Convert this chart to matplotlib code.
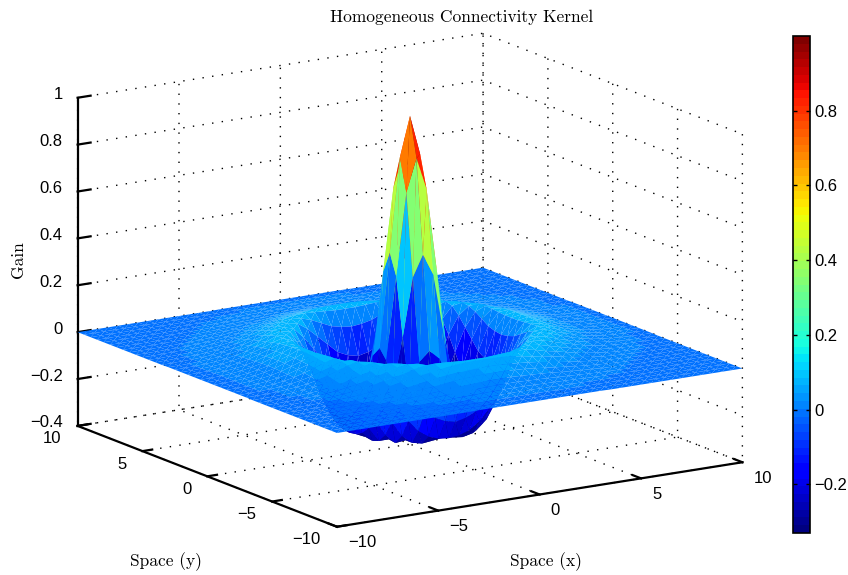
import numpy as np
import matplotlib
matplotlib.use('Agg')
import matplotlib.pyplot as plt
from matplotlib.colors import Normalize, ListedColormap
from matplotlib.cm import ScalarMappable
from mpl_toolkits.mplot3d import proj3d

plt.rcParams['font.family'] = ['Liberation Sans', 'DejaVu Sans']
plt.rcParams['grid.color'] = 'black'
plt.rcParams['grid.linestyle'] = (0, (1, 6))
plt.rcParams['grid.linewidth'] = 1.0
plt.rcParams['xtick.major.width'] = 1.6
plt.rcParams['ytick.major.width'] = 1.6

# one quadrant of the kernel, x and y = 0, 0.5 ... 10
gain_quadrant = [
    [1.00, .83, .43, .03, -.20, -.32, -.31, -.23, -.11, .005, .07, .078, .06, .045, .03, .02, .012, .007, .004, .002, .001],
    [.83, .69, .34, -.01, -.22, -.325, -.305, -.22, -.10, .01, .07, .078, .06, .045, .03, .02, .012, .007, .004, .002, .001],
    [.43, .34, .09, -.12, -.27, -.33, -.29, -.20, -.08, .02, .073, .076, .057, .042, .028, .018, .011, .007, .004, .002, .001],
    [.03, -.01, -.12, -.24, -.32, -.32, -.26, -.165, -.04, .04, .076, .072, .054, .04, .026, .017, .01, .006, .003, .002, .001],
    [-.20, -.22, -.27, -.32, -.325, -.285, -.21, -.10, .00, .06, .078, .066, .05, .036, .024, .015, .009, .005, .003, .002, .001],
    [-.32, -.325, -.33, -.32, -.285, -.22, -.14, -.035, .04, .074, .076, .058, .045, .031, .021, .013, .008, .005, .003, .002, .001],
    [-.31, -.305, -.29, -.26, -.21, -.14, -.05, .02, .07, .078, .068, .052, .038, .026, .017, .011, .007, .004, .002, .001, .001],
    [-.23, -.22, -.20, -.165, -.10, -.035, .02, .065, .078, .072, .056, .044, .031, .022, .014, .009, .005, .003, .002, .001, .00],
    [-.11, -.10, -.08, -.04, .00, .04, .07, .078, .073, .06, .048, .036, .025, .017, .011, .007, .004, .003, .002, .001, .00],
    [.005, .01, .02, .04, .06, .074, .078, .072, .06, .049, .038, .027, .02, .013, .009, .005, .003, .002, .001, .00, .00],
    [.07, .07, .073, .076, .078, .076, .068, .056, .048, .038, .028, .021, .015, .01, .006, .004, .003, .002, .001, .00, .00],
    [.078, .078, .076, .072, .066, .058, .052, .044, .036, .027, .021, .015, .01, .007, .005, .003, .002, .001, .00, .00, .00],
    [.06, .06, .057, .054, .05, .045, .038, .031, .025, .02, .015, .01, .007, .005, .003, .002, .001, .00, .00, .00, .00],
    [.045, .045, .042, .04, .036, .031, .026, .022, .017, .013, .01, .007, .005, .003, .002, .001, .001, .00, .00, .00, .00],
    [.03, .03, .028, .026, .024, .021, .017, .014, .011, .009, .006, .005, .003, .002, .001, .001, .00, .00, .00, .00, .00],
    [.02, .02, .018, .017, .015, .013, .011, .009, .007, .005, .004, .003, .002, .001, .001, .00, .00, .00, .00, .00, .00],
    [.012, .012, .011, .01, .009, .008, .007, .005, .004, .003, .003, .002, .001, .001, .00, .00, .00, .00, .00, .00, .00],
    [.007, .007, .007, .006, .005, .005, .004, .003, .003, .002, .002, .001, .00, .00, .00, .00, .00, .00, .00, .00, .00],
    [.004, .004, .004, .003, .003, .003, .002, .002, .002, .001, .001, .00, .00, .00, .00, .00, .00, .00, .00, .00, .00],
    [.002, .002, .002, .002, .002, .002, .001, .001, .001, .00, .00, .00, .00, .00, .00, .00, .00, .00, .00, .00, .00],
    [.001, .001, .001, .001, .001, .001, .001, .00, .00, .00, .00, .00, .00, .00, .00, .00, .00, .00, .00, .00, .00],
]
space_ticks = [-10, -5, 0, 5, 10]
gain_ticks = [-0.4, -0.2, 0, 0.2, 0.4, 0.6, 0.8, 1]
gain_labels = ['\u22120.4', '\u22120.2', '0', '0.2', '0.4', '0.6', '0.8', '1']
space_labels = ['\u221210', '\u22125', '0', '5', '10']
cbar_ticks = [-0.2, 0, 0.2, 0.4, 0.6, 0.8]
cbar_labels = ['\u22120.2', '0', '0.2', '0.4', '0.6', '0.8']
clim = (-0.33, 1.0)

q = np.array(gain_quadrant)
top = np.hstack([q[:, :0:-1], q])
Z = np.vstack([top[:0:-1], top])
axis_vals = np.arange(-20, 21) / 2
X, Y = np.meshgrid(axis_vals, axis_vals)

W, H = 848, 575
fig = plt.figure(figsize=(W / 100, H / 100), dpi=100)

# square 3d axes, the box centre falls on pixel (410, 280)
size = 560
left = 410 - 0.5135 * size
bottom = (H - 280) - 0.5135 * size
ax = fig.add_axes([left / W, bottom / H, size / W, size / H], projection='3d')
ax.set_proj_type('ortho')
ax.view_init(elev=14.4, azim=-122.6)
ax.set_box_aspect((1, 1, 0.704), zoom=1.318)

jet64 = ListedColormap(plt.get_cmap('jet')(np.linspace(0, 1, 64)))
norm = Normalize(*clim)

# each grid cell is two triangles split along the (i,j)-(i+1,j+1) diagonal,
# both flat coloured from the lowest corner of the cell
n = len(axis_vals)
ids = np.arange(n * n).reshape(n, n)
a, b, c, d = ids[:-1, :-1].ravel(), ids[:-1, 1:].ravel(), ids[1:, 1:].ravel(), ids[1:, :-1].ravel()
tris = np.vstack([np.column_stack([a, b, c]), np.column_stack([a, c, d])])
cell_colors = jet64(norm(Z.ravel()[a]))
surf = ax.plot_trisurf(X.ravel(), Y.ravel(), Z.ravel(), triangles=tris, shade=False,
                       linewidth=0, antialiased=True)
surf.set_facecolor(np.vstack([cell_colors, cell_colors]))
surf.set_clip_on(False)

ax.set_xlim(-10, 10, view_margin=0)
ax.set_ylim(-10, 10, view_margin=0)
ax.set_zlim(-0.4, 1, view_margin=0)

ax.set_xticks(space_ticks)
ax.set_xticklabels([])
ax.set_yticks(space_ticks)
ax.set_yticklabels([])
ax.set_zticks(gain_ticks)
ax.set_zticklabels([])
for axis, out in ((ax.xaxis, 0.4), (ax.yaxis, 0.3), (ax.zaxis, 0.4)):
    axis.set_pane_color((1, 1, 1, 0))
    axis.pane.set_edgecolor('black')
    axis.pane.set_linestyle((0, (1, 6)))
    axis.line.set_linewidth(1.6)
    axis.line.set_color('black')
    axis._axinfo['tick']['outward_factor'] = out
    axis._axinfo['tick']['inward_factor'] = 0
ax.grid(True)

# tick labels, anchored on the axis edges and nudged in pixels
proj = ax.get_proj()
def tick_label(x, y, z, s, dx, dy, ha):
    px, py, _ = proj3d.proj_transform(x, y, z, proj)
    ax.annotate(s, (px, py), xytext=(dx, dy), textcoords='offset pixels', ha=ha, va='center',
                fontsize=12, annotation_clip=False)

for v, s in zip(space_ticks, space_labels):
    tick_label(v, -10, -0.4, s, 11, -16, 'left')
    tick_label(-10, v, -0.4, s, -16, -13, 'right')
for v, s in zip(gain_ticks, gain_labels):
    tick_label(-10, 10, v, s, -15, 3, 'right')

fig.text(462 / W, 1 - 17 / H, 'Homogeneous Connectivity Kernel', family='cmr10', fontsize=12.5,
         ha='center', va='center')
fig.text(166 / W, 1 - 562 / H, 'Space (y)', family='cmr10', fontsize=12.5, ha='center', va='center')
fig.text(546 / W, 1 - 562 / H, 'Space (x)', family='cmr10', fontsize=12.5, ha='center', va='center')
fig.text(18 / W, 1 - 260 / H, 'Gain', family='cmr10', fontsize=12.5, rotation=90, ha='center', va='center')

cax = fig.add_axes([793 / W, 1 - 533 / H, 17 / W, 497 / H])
cb = fig.colorbar(ScalarMappable(norm=norm, cmap=jet64), cax=cax)
cb.set_ticks(cbar_ticks)
cb.set_ticklabels(cbar_labels, fontsize=12)
cb.outline.set_linewidth(1.2)
cax.tick_params(direction='in', length=3, width=1, left=True, right=True, pad=3)

fig.savefig('out.png', dpi=100)
